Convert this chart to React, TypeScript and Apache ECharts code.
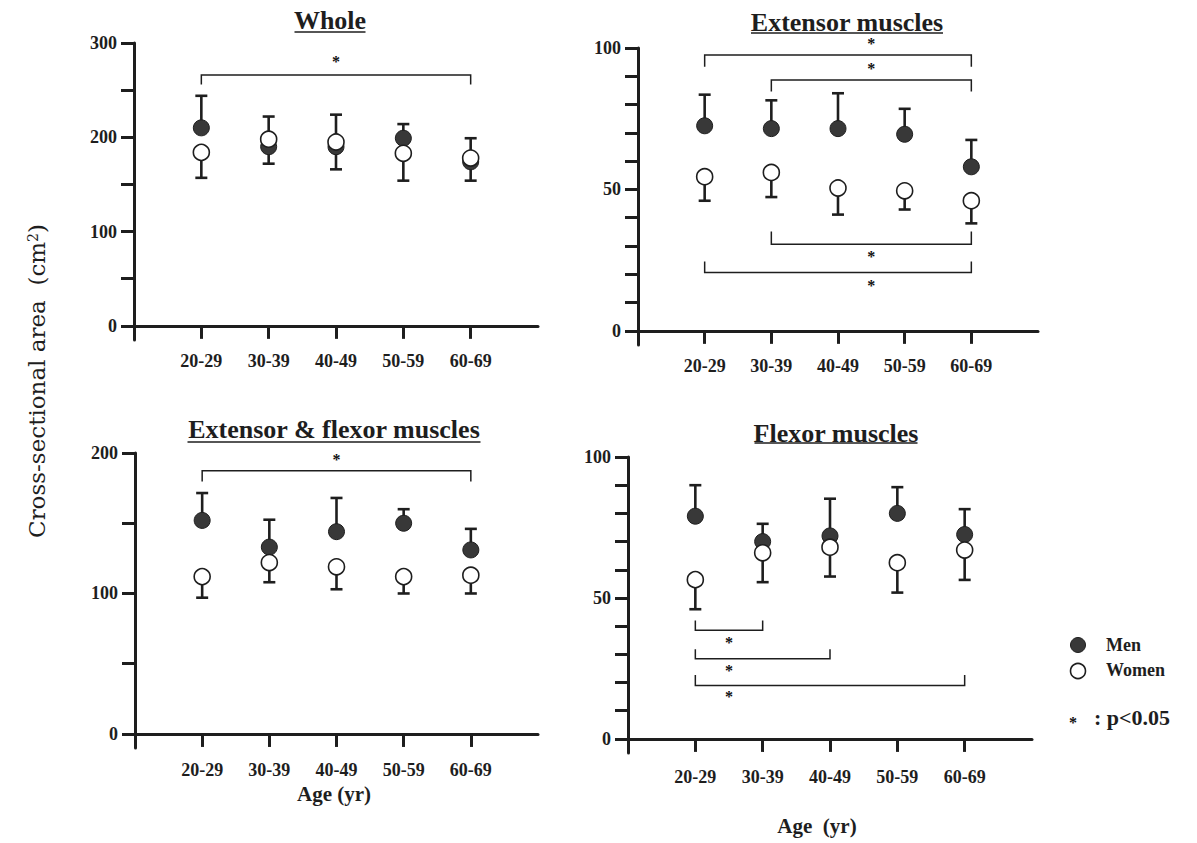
import React, { useEffect, useRef } from "react";
import * as echarts from "echarts";

// ---------------- data ----------------
const ageGroups = ["20-29", "30-39", "40-49", "50-59", "60-69"];
const agePos = [1, 2, 3, 4, 5];

const wholeMen = [210, 190, 190, 199, 174];
const wholeMenSD = [34, 32, 34, 15, 25];
const wholeWomen = [184, 198, 195, 183, 178];
const wholeWomenSD = [27, 26, 29, 29, 24];
// [from, to, bracket level, end level, star x, star y]
const wholeBrackets = [[1, 5, 266, 256, 3.0, 280]];

const extMen = [72.5, 71.5, 71.5, 69.5, 58];
const extMenSD = [11, 10, 12.5, 9, 9.5];
const extWomen = [54.5, 56, 50.5, 49.5, 46];
const extWomenSD = [8.5, 8.7, 9.4, 6.6, 8];
const extBrackets = [
  [1, 5, 97.5, 93.4, 3.5, 101.5],
  [2, 5, 88.7, 84.6, 3.5, 92.8],
  [2, 5, 30.6, 35.1, 3.5, 26.3],
  [1, 5, 20.6, 24.5, 3.5, 16.1],
];

const efMen = [152, 133, 144, 150, 131];
const efMenSD = [19.5, 19.5, 24, 10, 15];
const efWomen = [112, 122, 119, 112, 113];
const efWomenSD = [15, 14, 16, 12, 13];
const efBrackets = [[1, 5, 187.4, 179.8, 3.0, 195.5]];

const flxMen = [79, 70, 72, 80, 72.5];
const flxMenSD = [11, 6.3, 13.2, 9.3, 9];
const flxWomen = [56.5, 66, 68, 62.5, 67];
const flxWomenSD = [10.5, 10.4, 10.4, 10.6, 10.6];
const flxBrackets = [
  [1, 2, 38.5, 42, 1.5, 34.1],
  [1, 3, 28.4, 31.8, 1.5, 24.2],
  [1, 5, 18.9, 22.7, 1.5, 15.1],
];

const yTickStep = [50, 10, 50, 10];
const yLabelStep = [100, 50, 100, 50];
const yMaxes = [300, 100, 200, 100];
const titles = ["Whole", "Extensor muscles", "Extensor & flexor muscles", "Flexor muscles"];

// ---------------- layout ----------------
const INK = "#1e1e1e";
const SERIF = '"Liberation Serif", "Times New Roman", serif';

const layouts = [
  { grid: { left: 134, top: 43, width: 404, height: 297 }, yMin: -15, tx: 330, ty: 20, ulw: 71, uly: 32, xm: 12 },
  { grid: { left: 638, top: 48, width: 400, height: 297 }, yMin: -5, tx: 847, ty: 22, ulw: 192, uly: 33, xm: 12 },
  { grid: { left: 135, top: 453, width: 403, height: 295 }, yMin: -10, tx: 334, ty: 429, ulw: 293, uly: 442, xm: 13 },
  { grid: { left: 628, top: 457, width: 404, height: 296 }, yMin: -5, tx: 836, ty: 433, ulw: 163, uly: 443, xm: 15 },
];

const range = (a: number, b: number, s: number) => {
  const r: number[] = [];
  for (let v = a; v <= b + 1e-9; v += s) r.push(v);
  return r;
};

const errRender = (params: any, api: any) => {
  const x = api.value(0);
  const a = api.coord([x, api.value(1)]);
  const b = api.coord([x, api.value(2)]);
  const st = { stroke: INK, lineWidth: 2.6 };
  return {
    type: "group",
    children: [
      { type: "line", shape: { x1: a[0], y1: a[1], x2: b[0], y2: b[1] }, style: st },
      { type: "line", shape: { x1: b[0] - 6, y1: b[1], x2: b[0] + 6, y2: b[1] }, style: st },
    ],
  };
};

const brRender = (params: any, api: any) => {
  const p1 = api.coord([api.value(0), api.value(3)]);
  const p2 = api.coord([api.value(0), api.value(2)]);
  const p3 = api.coord([api.value(1), api.value(2)]);
  const p4 = api.coord([api.value(1), api.value(3)]);
  const s = api.coord([api.value(4), api.value(5)]);
  return {
    type: "group",
    children: [
      {
        type: "polyline",
        shape: { points: [p1, p2, p3, p4] },
        style: { stroke: INK, lineWidth: 1.5, fill: null },
      },
      {
        type: "text",
        x: s[0],
        y: s[1],
        style: {
          text: "*",
          fill: "#111111",
          font: `bold 16px ${SERIF}`,
          align: "center",
          verticalAlign: "middle",
        },
      },
    ],
  };
};

export default function App() {
  const ref = useRef<HTMLDivElement>(null);

  useEffect(() => {
    if (!ref.current) return;
    const chart = echarts.init(ref.current, undefined, { renderer: "svg" });

    const sets = [
      [wholeMen, wholeMenSD, wholeWomen, wholeWomenSD, wholeBrackets],
      [extMen, extMenSD, extWomen, extWomenSD, extBrackets],
      [efMen, efMenSD, efWomen, efWomenSD, efBrackets],
      [flxMen, flxMenSD, flxWomen, flxWomenSD, flxBrackets],
    ] as any[];

    const labelStyle = { color: INK, fontSize: 18, fontWeight: "bold" as const, fontFamily: SERIF };

    const grids = layouts.map((l) => ({ ...l.grid, containLabel: false }));
    const xAxes = layouts.map((l, i) => ({
      type: "value",
      gridIndex: i,
      min: 0,
      max: 6,
      axisLine: { show: true, onZero: true, lineStyle: { color: INK, width: 3 } },
      axisTick: { show: true, length: 13, customValues: agePos, lineStyle: { color: INK, width: 3 } },
      axisLabel: {
        ...labelStyle,
        margin: l.xm,
        customValues: agePos,
        formatter: (v: number) => ageGroups[Math.round(v) - 1] ?? "",
      },
      splitLine: { show: false },
    }));
    const yAxes = layouts.map((l, i) => ({
      type: "value",
      gridIndex: i,
      min: l.yMin,
      max: yMaxes[i],
      axisLine: { show: true, onZero: false, lineStyle: { color: INK, width: 3 } },
      axisTick: {
        show: true,
        length: 13,
        customValues: range(0, yMaxes[i], yTickStep[i]),
        lineStyle: { color: INK, width: 3 },
      },
      axisLabel: { ...labelStyle, margin: 17, customValues: range(0, yMaxes[i], yLabelStep[i]) },
      splitLine: { show: false },
    }));

    const series: any[] = [];
    sets.forEach(([men, menSD, women, womenSD, brackets], i) => {
      series.push({
        type: "custom",
        name: "Men SD",
        xAxisIndex: i,
        yAxisIndex: i,
        clip: false,
        renderItem: errRender,
        data: men.map((m: number, j: number) => [agePos[j], m, m + menSD[j]]),
      });
      series.push({
        type: "scatter",
        name: "Men",
        xAxisIndex: i,
        yAxisIndex: i,
        symbol: "circle",
        symbolSize: 16,
        itemStyle: { color: "#383838", borderColor: INK, borderWidth: 1, opacity: 1 },
        data: men.map((m: number, j: number) => [agePos[j], m]),
      });
      series.push({
        type: "custom",
        name: "Women SD",
        xAxisIndex: i,
        yAxisIndex: i,
        clip: false,
        renderItem: errRender,
        data: women.map((w: number, j: number) => [agePos[j], w, w - womenSD[j]]),
      });
      series.push({
        type: "scatter",
        name: "Women",
        xAxisIndex: i,
        yAxisIndex: i,
        symbol: "circle",
        symbolSize: 16,
        itemStyle: { color: "#ffffff", borderColor: INK, borderWidth: 1.6, opacity: 1 },
        data: women.map((w: number, j: number) => [agePos[j], w]),
      });
      series.push({
        type: "custom",
        name: "p<0.05",
        xAxisIndex: i,
        yAxisIndex: i,
        clip: false,
        renderItem: brRender,
        data: brackets,
      });
    });

    const graphics: any[] = [];
    layouts.forEach((l, i) => {
      graphics.push({
        type: "text",
        x: l.tx,
        y: l.ty,
        style: {
          text: titles[i],
          fill: INK,
          font: `bold 26px ${SERIF}`,
          align: "center",
          verticalAlign: "middle",
        },
      });
      graphics.push({
        type: "line",
        shape: { x1: l.tx - l.ulw / 2, y1: l.uly, x2: l.tx + l.ulw / 2, y2: l.uly },
        style: { stroke: INK, lineWidth: 1.6 },
      });
    });
    // y-axis title
    graphics.push({
      type: "text",
      x: 37,
      y: 381,
      rotation: Math.PI / 2,
      style: {
        text: "Cross-sectional area  (cm{sup|2})",
        fill: INK,
        font: `23px "DejaVu Serif", serif`,
        align: "center",
        verticalAlign: "middle",
        rich: {
          sup: { fontSize: 14, fontFamily: '"DejaVu Serif", serif', verticalAlign: "top", fill: INK },
        },
      },
    });
    // x-axis titles
    const ageStyle = (t: string) => ({
      text: t,
      fill: INK,
      font: `bold 21px ${SERIF}`,
      align: "center",
      verticalAlign: "middle",
    });
    graphics.push({ type: "text", x: 334, y: 794, style: ageStyle("Age (yr)") });
    graphics.push({ type: "text", x: 817, y: 826, style: ageStyle("Age  (yr)") });
    // legend
    graphics.push({ type: "circle", shape: { cx: 1078, cy: 645, r: 7.5 }, style: { fill: "#383838", stroke: INK, lineWidth: 1 } });
    graphics.push({ type: "circle", shape: { cx: 1078, cy: 671, r: 7.5 }, style: { fill: "#fff", stroke: INK, lineWidth: 1.6 } });
    const legText = (t: string, x: number, y: number, size: number) => ({
      type: "text",
      x,
      y,
      style: {
        text: t,
        fill: INK,
        font: `bold ${size}px ${SERIF}`,
        align: "left",
        verticalAlign: "middle",
      },
    });
    graphics.push(legText("Men", 1106, 645, 18));
    graphics.push(legText("Women", 1106, 670, 18));
    graphics.push({
      type: "text",
      x: 1073,
      y: 722,
      style: { text: "*", fill: "#111111", font: `bold 16px ${SERIF}`, align: "center", verticalAlign: "middle" },
    });
    graphics.push(legText(": p<0.05", 1094, 717, 22));

    chart.setOption({
      animation: false,
      backgroundColor: "#ffffff",
      grid: grids,
      xAxis: xAxes,
      yAxis: yAxes,
      series,
      graphic: graphics,
    });

    return () => chart.dispose();
  }, []);

  return <div ref={ref} style={{ position: "fixed", left: 0, top: 0, width: 1197, height: 843 }} />;
}
